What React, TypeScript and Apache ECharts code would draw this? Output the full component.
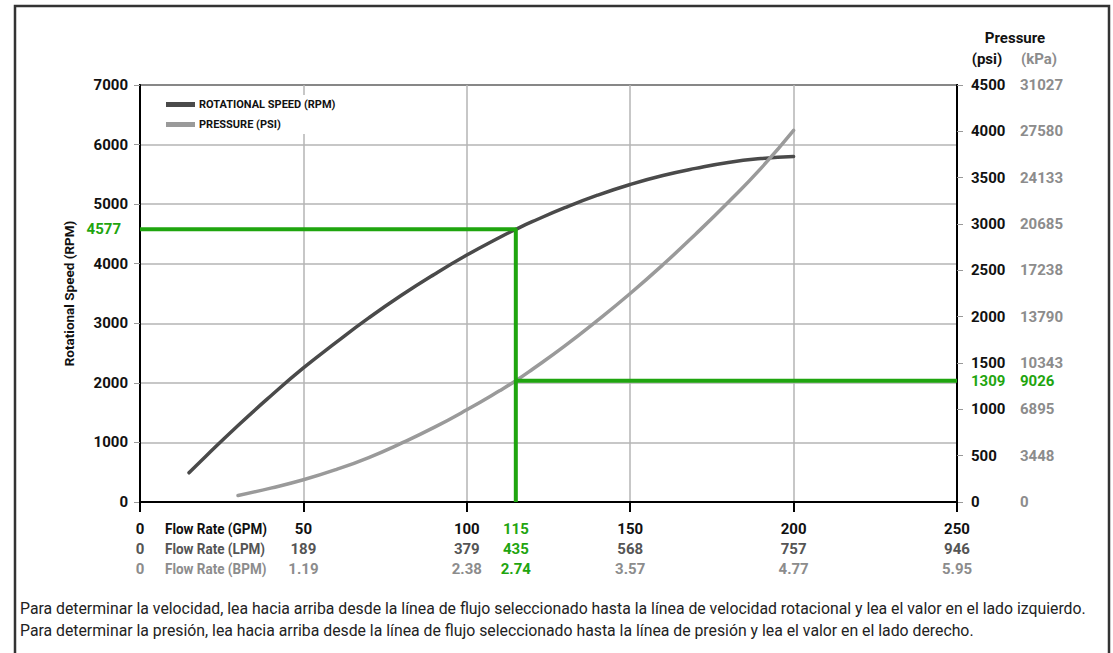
import React, { useEffect, useRef } from "react";
import * as echarts from "echarts";

// ---- Data ----
const FLOW_TICKS = [0, 50, 100, 150, 200, 250];
const LPM_LABELS = ["0", "189", "379", "568", "757", "946"];
const BPM_LABELS = ["0", "1.19", "2.38", "3.57", "4.77", "5.95"];
const KPA_LABELS = ["0", "3448", "6895", "10343", "13790", "17238", "20685", "24133", "27580", "31027"];

const SPEED_FLOW = [15, 20, 30, 40, 50, 60, 70, 80, 90, 100, 110, 115, 120, 130, 140, 150, 160, 170, 180, 190, 200];
const SPEED_RPM = [490, 760, 1285, 1780, 2250, 2680, 3090, 3470, 3820, 4145, 4440, 4577, 4705, 4940, 5150, 5330, 5480, 5600, 5700, 5765, 5800];

const PRESSURE_FLOW = [30, 40, 50, 60, 70, 80, 90, 100, 110, 115, 120, 130, 140, 150, 160, 170, 180, 190, 200];
const PRESSURE_PSI = [70, 150, 240, 350, 480, 635, 805, 995, 1200, 1309, 1430, 1685, 1960, 2250, 2560, 2890, 3235, 3600, 4010];

const GUIDE_FLOW = 115;
const GUIDE_LPM = "435";
const GUIDE_BPM = "2.74";
const GUIDE_RPM = 4577;
const GUIDE_PSI = 1309;
const GUIDE_KPA = "9026";

const FOOTER_1 =
  "Para determinar la velocidad, lea hacia arriba desde la línea de flujo seleccionado hasta la línea de velocidad rotacional y lea el valor en el lado izquierdo.";
const FOOTER_2 =
  "Para determinar la presión, lea hacia arriba desde la línea de flujo seleccionado hasta la línea de presión y lea el valor en el lado derecho.";

const FONT = "Roboto, sans-serif";
const GREEN = "#1fa50f";
const SPEED_COLOR = "#4a4a4a";
const PRESSURE_COLOR = "#9a9a9a";
const GRID_COLOR = "#b5b5b5";
const LBL = 15;

export default function App() {
  const ref = useRef<HTMLDivElement>(null);

  useEffect(() => {
    if (!ref.current) return;
    const chart = echarts.init(ref.current, null, { renderer: "svg" });

    const bold = (size: number, color: string) => ({
      fontFamily: FONT,
      fontWeight: "bold" as const,
      fontSize: size,
      color,
    });
    const gtext = (x: number, y: number, text: string, fill: string, align = "left", size = LBL, scaleX = 1) => ({
      type: "text",
      x,
      y,
      scaleX,
      style: { text, fill, align, verticalAlign: "middle", font: `bold ${size}px ${FONT}` },
    });

    const option: any = {
      animation: false,
      backgroundColor: "#fff",
      grid: {
        left: 140,
        right: 156,
        top: 85,
        bottom: 151,
        show: true,
        borderColor: "#000",
        borderWidth: 2,
        backgroundColor: "transparent",
      },
      legend: {
        left: 160,
        top: 95,
        orient: "vertical",
        icon: "rect",
        itemWidth: 29,
        itemHeight: 5,
        itemGap: 9,
        padding: [4, 6, 4, 6],
        backgroundColor: "#fff",
        data: ["ROTATIONAL SPEED (RPM)", "PRESSURE (PSI)"],
        textStyle: { ...bold(11, "#111"), padding: [0, 0, 0, -1] },
        selectedMode: false,
      },
      xAxis: {
        type: "value",
        min: 0,
        max: 250,
        interval: 50,
        axisLine: { show: true, lineStyle: { color: "#000", width: 2 } },
        axisTick: { show: true, length: 10, lineStyle: { color: "#000", width: 2 } },
        splitLine: { show: true, lineStyle: { color: GRID_COLOR, width: 1.5 } },
        axisLabel: {
          customValues: [...FLOW_TICKS, GUIDE_FLOW],
          margin: 17,
          formatter: (v: number) => {
            if (v === GUIDE_FLOW) return `{ga|${v}}\n{gb|${GUIDE_LPM}}\n{gc|${GUIDE_BPM}}`;
            const i = FLOW_TICKS.indexOf(v);
            return `{a|${v}}\n{b|${LPM_LABELS[i]}}\n{c|${BPM_LABELS[i]}}`;
          },
          rich: {
            a: { ...bold(LBL, "#111"), lineHeight: 20 },
            b: { ...bold(LBL, "#555"), lineHeight: 20 },
            c: { ...bold(LBL, "#8c8c8c"), lineHeight: 20 },
            ga: { ...bold(LBL, GREEN), lineHeight: 20 },
            gb: { ...bold(LBL, GREEN), lineHeight: 20 },
            gc: { ...bold(LBL, GREEN), lineHeight: 20 },
          },
        },
      },
      yAxis: [
        {
          type: "value",
          min: 0,
          max: 7000,
          interval: 1000,
          position: "left",
          name: "Rotational Speed (RPM)",
          nameLocation: "middle",
          nameRotate: 90,
          nameGap: 55,
          nameTextStyle: bold(13.5, "#111"),
          axisLine: { show: true, lineStyle: { color: "#000", width: 2 } },
          axisTick: { show: true, length: 6, lineStyle: { color: "#999", width: 1 } },
          splitLine: { show: true, lineStyle: { color: GRID_COLOR, width: 1.5 } },
          axisLabel: {
            customValues: [0, 1000, 2000, 3000, 4000, 5000, 6000, 7000, GUIDE_RPM],
            margin: 12,
            formatter: (v: number) => (v === GUIDE_RPM ? `{g|${v}}` : `{n|${v}}`),
            rich: {
              n: bold(LBL, "#111"),
              g: { ...bold(LBL, GREEN), padding: [0, 7, 0, 0] },
            },
          },
        },
        {
          type: "value",
          min: 0,
          max: 4500,
          interval: 500,
          position: "right",
          axisLine: { show: true, lineStyle: { color: "#000", width: 2 } },
          axisTick: { show: true, length: 6, lineStyle: { color: "#999", width: 1 } },
          splitLine: { show: false },
          axisLabel: {
            customValues: [0, 500, 1000, 1500, 2000, 2500, 3000, 3500, 4000, 4500, GUIDE_PSI],
            margin: 14,
            formatter: (v: number) => (v === GUIDE_PSI ? `{g|${v}}` : `{n|${v}}`),
            rich: { n: bold(LBL, "#111"), g: bold(LBL, GREEN) },
          },
        },
        {
          type: "value",
          min: 0,
          max: 4500,
          interval: 500,
          position: "right",
          offset: 50,
          axisLine: { show: false },
          axisTick: { show: false },
          splitLine: { show: false },
          axisLabel: {
            customValues: [0, 500, 1000, 1500, 2000, 2500, 3000, 3500, 4000, 4500, GUIDE_PSI],
            margin: 13,
            formatter: (v: number) =>
              v === GUIDE_PSI ? `{g|${GUIDE_KPA}}` : `{n|${KPA_LABELS[Math.round(v / 500)]}}`,
            rich: { n: bold(LBL, "#8c8c8c"), g: bold(LBL, GREEN) },
          },
        },
      ],
      series: [
        {
          name: "ROTATIONAL SPEED (RPM)",
          type: "line",
          yAxisIndex: 0,
          smooth: true,
          showSymbol: false,
          symbol: "none",
          color: SPEED_COLOR,
          lineStyle: { color: SPEED_COLOR, width: 3.5, cap: "round" },
          data: SPEED_FLOW.map((f, i) => [f, SPEED_RPM[i]]),
          z: 3,
        },
        {
          name: "PRESSURE (PSI)",
          type: "line",
          yAxisIndex: 1,
          smooth: true,
          showSymbol: false,
          symbol: "none",
          color: PRESSURE_COLOR,
          lineStyle: { color: PRESSURE_COLOR, width: 3.5, cap: "round" },
          data: PRESSURE_FLOW.map((f, i) => [f, PRESSURE_PSI[i]]),
          z: 3,
        },
        {
          name: "speed guide",
          type: "line",
          yAxisIndex: 0,
          symbol: "none",
          lineStyle: { color: GREEN, width: 4 },
          data: [
            [0, GUIDE_RPM],
            [GUIDE_FLOW, GUIDE_RPM],
            [GUIDE_FLOW, 0],
          ],
          z: 4,
        },
        {
          name: "pressure guide",
          type: "line",
          yAxisIndex: 1,
          symbol: "none",
          lineStyle: { color: GREEN, width: 4 },
          data: [
            [GUIDE_FLOW, GUIDE_PSI],
            [250, GUIDE_PSI],
          ],
          z: 4,
        },
      ],
      graphic: [
        {
          type: "rect",
          shape: { x: 15, y: 6, width: 1094, height: 720 },
          style: { fill: "none", stroke: "#333", lineWidth: 2.5 },
          silent: true,
        },
        gtext(1015, 38, "Pressure", "#111", "center"),
        gtext(987, 59, "(psi)", "#111", "center"),
        gtext(1039, 59, "(kPa)", "#8c8c8c", "center"),
        gtext(165, 529, "Flow Rate (GPM)", "#111", "left", LBL, 0.9),
        gtext(165, 549, "Flow Rate (LPM)", "#555", "left", LBL, 0.9),
        gtext(165, 569, "Flow Rate (BPM)", "#8c8c8c", "left", LBL, 0.9),
        { type: "text", x: 20, y: 608, style: { text: FOOTER_1, fill: "#222", verticalAlign: "middle", font: `15.8px ${FONT}` } },
        { type: "text", x: 20, y: 630, style: { text: FOOTER_2, fill: "#222", verticalAlign: "middle", font: `15.8px ${FONT}` } },
      ],
    };

    chart.setOption(option);
    return () => chart.dispose();
  }, []);

  return (
    <div
      ref={ref}
      style={{ position: "fixed", left: 0, top: 0, width: 1113, height: 653, background: "#fff" }}
    />
  );
}
